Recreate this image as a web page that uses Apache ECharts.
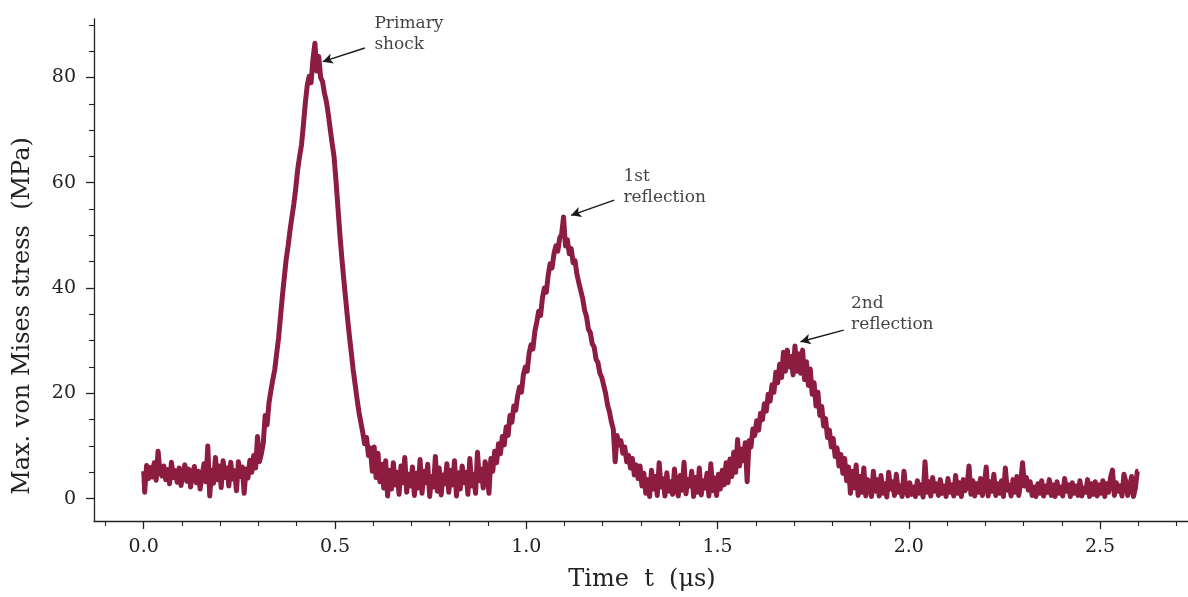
<!DOCTYPE html>
<html>
<head>
<meta charset="utf-8">
<script src="https://cdn.jsdelivr.net/npm/echarts@6/dist/echarts.min.js"></script>
<style>html,body{margin:0;padding:0;background:#fff}#c{width:1188px;height:597px}</style>
</head>
<body>
<div id="c"></div>
<script>
// ---- data ----
const TIME_STEP = 0.005; // µs between samples, starting at t = 0
// t = 0.000 .. 0.595
const stressA = [
 5.2,1.2,6.3,3.8,5.9,4.1,6.8,3.5,9.0,5.1,4.3,6.2,3.6,5.5,2.8,6.9,4.0,5.3,3.1,5.8,
 2.5,4.9,6.4,3.3,5.6,2.2,4.7,6.1,3.0,5.2,1.8,4.4,6.6,3.2,10.0,0.5,5.4,2.9,7.8,3.6,
 6.2,2.1,7.2,4.0,5.8,2.4,6.9,3.7,5.3,1.5,7.0,4.2,6.0,1.0,5.6,3.9,7.3,5.0,8.2,5.8,
 11.8,7.0,8.5,10.5,15.8,14.0,18.2,20.5,22.6,24.5,27.5,30.5,34.5,38.5,42.0,45.5,48.0,51.0,53.5,56.0,
 59.0,62.5,65.0,67.2,71.0,75.2,78.5,80.2,79.0,83.5,86.5,81.2,84.0,80.0,79.2,77.0,75.4,73.0,70.2,67.5,
 65.0,60.5,55.5,50.5,46.0,42.0,38.2,34.5,31.0,27.8,24.5,21.8,19.0,16.5,14.5,12.6,10.4,11.6,8.2,9.6
];
// t = 0.600 .. 1.295
const stressB = [
 5.2,9.8,4.0,8.6,3.2,6.5,2.0,7.2,0.5,5.4,1.8,6.8,2.6,5.0,0.8,6.2,3.0,7.8,1.2,4.6,
 2.4,6.0,0.6,4.8,2.0,7.4,1.0,5.2,3.0,6.5,0.4,4.2,2.2,8.0,1.4,5.8,0.7,4.5,2.8,6.6,
 1.2,5.4,2.6,7.2,0.5,4.9,1.8,6.2,3.0,5.0,0.8,7.6,2.4,4.6,1.0,8.8,3.4,5.6,2.0,7.0,
 5.5,1.0,7.6,5.2,9.0,6.8,10.4,8.5,11.8,10.2,13.6,12.0,15.8,14.5,17.6,16.8,19.5,21.2,20.2,23.5,
 25.0,24.2,27.6,29.2,28.4,31.8,33.5,35.6,34.8,38.2,40.0,39.2,42.5,44.6,43.8,46.5,48.0,47.0,49.5,50.2,
 53.5,48.0,49.2,46.5,47.5,44.8,45.2,42.6,41.0,39.5,38.0,35.8,34.6,32.2,31.5,29.4,28.8,26.5,25.8,23.8,
 23.0,21.5,20.0,17.8,16.5,14.6,13.2,7.0,12.0,10.2,11.0,8.6,9.8,7.0,8.2,5.8,7.6,4.5,6.4,3.8
];
// t = 1.300 .. 1.895
const stressC = [
 6.2,2.4,4.8,1.0,3.6,0.4,5.4,1.8,4.2,0.6,6.8,2.2,3.8,0.5,4.9,1.4,3.2,0.8,5.6,2.0,
 0.5,4.4,1.6,6.9,0.9,3.6,2.4,5.2,0.4,4.0,1.2,5.8,0.7,3.4,2.0,4.8,0.5,6.6,1.5,3.9,
 0.6,4.6,1.8,5.4,2.6,6.8,3.0,7.5,4.2,8.8,5.0,11.2,6.2,9.4,7.2,10.6,3.2,11.0,9.8,13.2,
 12.0,14.8,13.0,16.2,15.0,18.0,16.6,19.8,18.5,21.6,20.2,24.0,22.0,25.5,23.0,27.8,24.2,28.2,25.0,27.0,
 23.5,29.0,24.2,27.5,23.8,28.2,22.6,26.0,21.5,24.6,19.8,22.0,17.6,20.2,15.8,17.5,13.8,15.2,11.6,13.0,
 9.8,11.4,8.0,9.6,6.2,8.4,4.8,7.6,3.4,6.0,1.0,5.2,2.0,6.4,0.6,4.2,1.2,5.8,0.5,3.6
];
// t = 1.900 .. 2.600
const stressD = [
 2.6,0.4,5.2,1.4,3.6,0.5,4.4,1.0,2.8,0.3,5.0,1.8,3.2,0.6,4.6,1.2,2.4,0.4,5.2,1.6,
 0.5,3.0,0.8,2.2,0.4,3.4,1.0,2.6,0.3,7.0,1.2,3.2,0.5,4.0,1.4,2.8,0.6,3.6,1.0,2.4,
 0.4,3.8,1.2,2.6,0.5,4.4,1.0,3.0,0.4,3.6,1.5,2.4,6.2,0.8,3.4,0.5,2.8,1.2,3.8,0.6,
 2.6,6.0,0.5,3.2,1.4,4.6,0.6,2.8,1.0,3.4,0.4,5.8,1.6,2.6,0.5,3.6,1.2,4.2,0.6,3.0,
 6.8,2.4,4.0,1.6,3.2,0.6,2.2,0.4,2.8,1.0,3.4,0.5,2.4,1.2,3.6,0.6,2.6,0.4,3.2,1.0,
 2.2,0.5,3.8,1.4,2.6,0.4,3.0,1.0,2.4,0.6,3.4,0.5,2.0,1.2,3.6,0.4,2.8,0.8,3.2,0.5,
 2.6,1.0,3.4,0.4,2.8,1.2,4.0,5.4,0.6,3.0,1.4,2.4,0.5,4.6,3.2,0.6,2.2,4.2,0.4,2.0,
 5.2
];
const xMajorTicks = [0, 0.5, 1.0, 1.5, 2.0, 2.5];
const xMinorTicks = [-0.1,0.1,0.2,0.3,0.4,0.6,0.7,0.8,0.9,1.1,1.2,1.3,1.4,1.6,1.7,1.8,1.9,2.1,2.2,2.3,2.4,2.6,2.7];
const yMajorTicks = [0, 20, 40, 60, 80];
const yMinorTicks = [5,10,15,25,30,35,45,50,55,65,70,75,85,90];
// annotations (data coordinates)
const annotLabels = ['Primary\nshock', '1st\nreflection', '2nd\nreflection'];
const annotText = [[0.603, 88.3], [1.254, 59.2], [1.849, 35.1]];
const annotTail = [[0.578, 85.6], [1.230, 56.7], [1.830, 32.0]];
const annotHead = [[0.468, 83.0], [1.117, 53.8], [1.717, 29.8]];

// ---- build ----
const stress = stressA.concat(stressB, stressC, stressD);
const series = stress.map((v, i) => [+(i * TIME_STEP).toFixed(3), v]);

const FONT = "'DejaVu Serif', 'Liberation Serif', serif";
const INK = '#222222';
const X_MIN = -0.13, X_MAX = 2.73, Y_MIN = -4.26, Y_MAX = 91.1;

const chart = echarts.init(document.getElementById('c'), null, {renderer: 'canvas'});
chart.setOption({
  animation: false,
  backgroundColor: '#ffffff',
  grid: {left: 94, top: 19, width: 1096, height: 502, containLabel: false},
  xAxis: [
    {
      type: 'value', min: X_MIN, max: X_MAX, position: 'bottom',
      axisLine: {show: true, onZero: false, lineStyle: {color: INK, width: 1.3}},
      axisTick: {show: true, customValues: xMajorTicks, length: 8, lineStyle: {color: INK, width: 1.3}},
      axisLabel: {show: true, customValues: xMajorTicks, margin: 17, color: INK, fontFamily: FONT, fontSize: 19,
                  formatter: v => Number(v).toFixed(1)},
      splitLine: {show: false}
    },
    {
      type: 'value', min: X_MIN, max: X_MAX, position: 'bottom', gridIndex: 0,
      axisLine: {show: false, onZero: false},
      axisTick: {show: true, customValues: xMinorTicks, length: 5, lineStyle: {color: INK, width: 1.1}},
      axisLabel: {show: false},
      splitLine: {show: false}
    }
  ],
  yAxis: [
    {
      type: 'value', min: Y_MIN, max: Y_MAX, position: 'left',
      axisLine: {show: true, onZero: false, lineStyle: {color: INK, width: 1.3}},
      axisTick: {show: true, customValues: yMajorTicks, length: 8, lineStyle: {color: INK, width: 1.3}},
      axisLabel: {show: true, customValues: yMajorTicks, margin: 18, color: INK, fontFamily: FONT, fontSize: 19},
      splitLine: {show: false}
    },
    {
      type: 'value', min: Y_MIN, max: Y_MAX, position: 'left', gridIndex: 0,
      axisLine: {show: false, onZero: false},
      axisTick: {show: true, customValues: yMinorTicks, length: 5, lineStyle: {color: INK, width: 1.1}},
      axisLabel: {show: false},
      splitLine: {show: false}
    }
  ],
  graphic: [
    {type: 'text', x: 23, y: 316, rotation: Math.PI / 2,
     style: {text: 'Max. von Mises stress  (MPa)', font: "24px 'DejaVu Serif', serif", fill: INK,
             textAlign: 'center', textVerticalAlign: 'middle'}},
    {type: 'text', x: 642, y: 580,
     style: {text: 'Time  t  (μs)', font: "24px 'DejaVu Serif', serif", fill: INK,
             textAlign: 'center', textVerticalAlign: 'middle'}}
  ],
  series: [
    {
      type: 'line', xAxisIndex: 0, yAxisIndex: 0, data: series,
      showSymbol: false, symbol: 'none', step: 'middle',
      lineStyle: {color: '#8c1c40', width: 5, join: 'round', cap: 'butt'},
      z: 2
    },
    {
      type: 'scatter', xAxisIndex: 0, yAxisIndex: 0, symbolSize: 0,
      data: annotText.map((p, i) => ({value: p, name: annotLabels[i]})),
      label: {show: true, position: 'right', distance: 0, formatter: p => p.name,
              fontFamily: FONT, fontSize: 17, lineHeight: 21, color: '#111111'},
      markLine: {
        silent: true, animation: false,
        symbol: ['none', 'arrow'], symbolSize: [8, 10],
        label: {show: false},
        lineStyle: {color: '#1a1a1a', width: 1.5, type: 'solid'},
        data: annotTail.map((p, i) => [{coord: p}, {coord: annotHead[i]}])
      },
      z: 3
    }
  ]
});
</script>
</body>
</html>
